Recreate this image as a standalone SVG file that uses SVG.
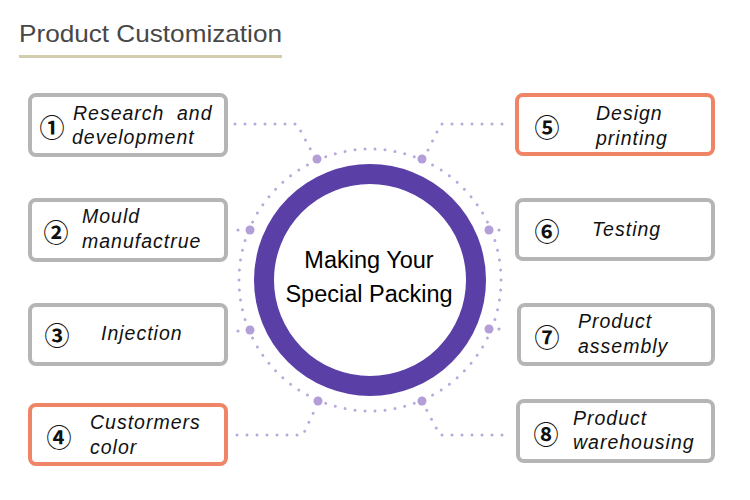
<svg xmlns="http://www.w3.org/2000/svg" width="750" height="500" viewBox="0 0 750 500">
<style>
.box{fill:#fff;stroke:#b5b5b5;stroke-width:4}
.box.hl{stroke:#ef8466}
.lbl{font-family:"Liberation Sans",Arial,sans-serif;font-style:italic;font-size:19.5px;letter-spacing:1px;fill:#111}
.num{font-family:"Noto Sans CJK SC","DejaVu Sans",sans-serif;font-size:25px;font-weight:bold;fill:#111;text-anchor:middle;dominant-baseline:central}
.dots{fill:none;stroke:#b9a8dc;stroke-width:3;stroke-linecap:round;stroke-dasharray:0 10}
.big{fill:#b39ed8}
.center{font-family:"Liberation Sans",Arial,sans-serif;font-size:23.5px;fill:#000;text-anchor:middle}
</style>
<rect width="750" height="500" fill="#fff"/>
<g id="title">
<text x="19" y="42" font-family="Liberation Sans,Arial,sans-serif" font-size="24" fill="#474747" textLength="263" lengthAdjust="spacingAndGlyphs">Product Customization</text>
<rect x="19" y="55" width="263" height="3" fill="#d2cdac"/>
</g>
<g id="connectors">
<circle class="dots" cx="370" cy="280" r="131" pathLength="820"/>
<path class="dots" d="M235,124 H297 L313,154"/>
<path class="dots" d="M237,435 H303 L316,407"/>
<path class="dots" d="M502,124 H441 L426,154"/>
<path class="dots" d="M502,435 H440 L425,407"/>
<circle cx="238" cy="230" r="1.6" fill="#b9a8dc"/>
<circle cx="238" cy="331" r="1.6" fill="#b9a8dc"/>
<circle cx="499" cy="230" r="1.6" fill="#b9a8dc"/>
<circle cx="499" cy="329" r="1.6" fill="#b9a8dc"/>
<circle class="big" cx="317" cy="159" r="4.5"/>
<circle class="big" cx="422" cy="159" r="4.5"/>
<circle class="big" cx="250" cy="230" r="4.5"/>
<circle class="big" cx="489" cy="230" r="4.5"/>
<circle class="big" cx="250" cy="330" r="4.5"/>
<circle class="big" cx="489" cy="329" r="4.5"/>
<circle class="big" cx="318" cy="401" r="4.5"/>
<circle class="big" cx="422" cy="401" r="4.5"/>
</g>
<g id="center">
<circle cx="370" cy="280" r="106" fill="#fff" stroke="#5a3fa7" stroke-width="20"/>
<text class="center" x="369" y="268">Making Your</text>
<text class="center" x="369" y="302">Special Packing</text>
</g>
<g id="n1">
<rect class="box" x="30" y="95" width="196" height="60" rx="6"/>
<text class="num" x="52" y="126">①</text>
<text class="lbl" x="73" y="120">Research</text>
<text class="lbl" x="177" y="120">and</text>
<text class="lbl" x="72" y="144">development</text>
</g>
<g id="n2">
<rect class="box" x="30" y="200" width="196" height="60" rx="6"/>
<text class="num" x="56" y="231">②</text>
<text class="lbl" x="82" y="223">Mould</text>
<text class="lbl" x="82" y="248">manufactrue</text>
</g>
<g id="n3">
<rect class="box" x="30" y="305" width="196" height="59" rx="6"/>
<text class="num" x="57" y="334">③</text>
<text class="lbl" x="101" y="340">Injection</text>
</g>
<g id="n4">
<rect class="box hl" x="30" y="405" width="196" height="59" rx="6"/>
<text class="num" x="59" y="436">④</text>
<text class="lbl" x="90" y="429">Custormers</text>
<text class="lbl" x="90" y="454">color</text>
</g>
<g id="n5">
<rect class="box hl" x="517" y="95" width="196" height="59" rx="6"/>
<text class="num" x="547" y="126">⑤</text>
<text class="lbl" x="596" y="120">Design</text>
<text class="lbl" x="596" y="145">printing</text>
</g>
<g id="n6">
<rect class="box" x="517" y="200" width="196" height="59" rx="6"/>
<text class="num" x="547" y="230">⑥</text>
<text class="lbl" x="592" y="236">Testing</text>
</g>
<g id="n7">
<rect class="box" x="519" y="305" width="194" height="59" rx="6"/>
<text class="num" x="547" y="336">⑦</text>
<text class="lbl" x="578" y="328">Product</text>
<text class="lbl" x="578" y="353">assembly</text>
</g>
<g id="n8">
<rect class="box" x="518" y="401" width="195" height="60" rx="6"/>
<text class="num" x="546" y="433">⑧</text>
<text class="lbl" x="573" y="425">Product</text>
<text class="lbl" x="573" y="449">warehousing</text>
</g>
</svg>
